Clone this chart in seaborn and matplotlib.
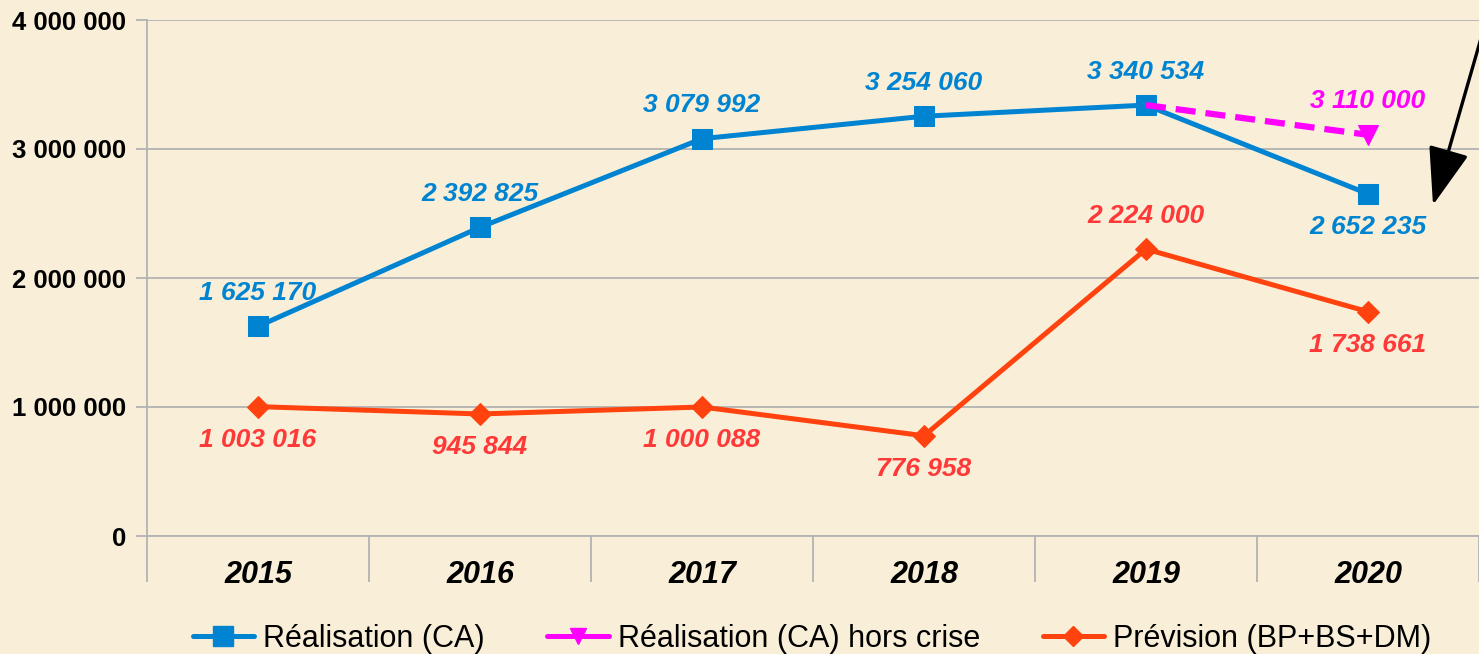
import numpy as np
import matplotlib
matplotlib.use("Agg")
import matplotlib.pyplot as plt
from matplotlib.lines import Line2D
from matplotlib.ticker import FuncFormatter
import seaborn as sns

annees = [2015, 2016, 2017, 2018, 2019, 2020]
realisation = [1625170, 2392825, 3079992, 3254060, 3340534, 2652235]
hors_crise = [np.nan, np.nan, np.nan, np.nan, 3340534, 3110000]
prevision = [1003016, 945844, 1000088, 776958, 2224000, 1738661]

# etiquette au-dessus (+1) ou en dessous (-1) du point
pos_real = [1, 1, 1, 1, 1, -1]
pos_prev = [-1, -1, -1, -1, 1, -1]

BLEU = "#0084d1"
ROUGE = "#ff420e"
ROUGE_TXT = "#ff3838"
MAGENTA = "#ff00ff"
FOND = "#f9efd8"
GRIS = "#b3b3b3"

sns.set_style("white")
plt.rcParams["font.family"] = ["Liberation Sans", "DejaVu Sans"]
plt.rcParams["text.color"] = "black"
plt.rcParams["xtick.color"] = "black"
plt.rcParams["ytick.color"] = "black"

fig = plt.figure(figsize=(14.79, 6.54), dpi=100, facecolor=FOND)
ax = fig.add_axes([147 / 1479, 1 - 536 / 654, 1 - 147 / 1479, (536 - 20) / 654])
ax.set_facecolor("none")

sns.lineplot(x=annees, y=realisation, color=BLEU, lw=3.6, marker="s", ms=14,
             mec=BLEU, ax=ax, zorder=3)
sns.lineplot(x=annees, y=hors_crise, color=MAGENTA, lw=4.5, marker="v", ms=14,
             mec=MAGENTA, linestyle=(0, (3.2, 1.6)), markevery=[1], ax=ax, zorder=4)
sns.lineplot(x=annees, y=prevision, color=ROUGE, lw=3.6, marker="D", ms=11,
             mec=ROUGE, ax=ax, zorder=3)

ax.set_xlim(2014.5, 2020.5)
ax.set_ylim(0, 4000000)

ax.set_xticks(annees)
ax.set_xticklabels([str(a) for a in annees], fontsize=22, fontweight="bold",
                   fontstyle="italic")
ax.set_xticks(np.arange(2014.5, 2021, 1), minor=True)
ax.tick_params(axis="x", which="major", bottom=True, length=0, pad=17)
ax.tick_params(axis="x", which="minor", bottom=True, length=33, color=GRIS, width=1.3)

ax.set_yticks([0, 1000000, 2000000, 3000000, 4000000])
ax.yaxis.set_major_formatter(FuncFormatter(lambda v, p: f"{int(v):,}".replace(",", " ")))
ax.tick_params(axis="y", left=True, length=8, color=GRIS, labelcolor="black",
               width=1.3, pad=7, labelsize=18.5)
for t in ax.get_yticklabels():
    t.set_fontweight("bold")

ax.yaxis.grid(True, color=GRIS, lw=1.3)
ax.xaxis.grid(False)
for s in ["top", "right"]:
    ax.spines[s].set_visible(False)
for s in ["left", "bottom"]:
    ax.spines[s].set_color(GRIS)
    ax.spines[s].set_linewidth(1.3)

def etiquette(x, y, sens, couleur):
    ax.annotate(f"{int(y):,}".replace(",", " "), (x, y), xytext=(0, 24 * sens),
                textcoords="offset points", ha="center", va="center", color=couleur,
                fontsize=19, fontweight="bold", fontstyle="italic", zorder=5)

for x, y, s in zip(annees, realisation, pos_real):
    etiquette(x, y, s, BLEU)
for x, y, s in zip(annees, prevision, pos_prev):
    etiquette(x, y, s, ROUGE_TXT)
etiquette(annees[-1], hors_crise[-1], 1, MAGENTA)

# fleche noire
ax.annotate("", xy=(1433, 654 - 205), xycoords="figure pixels",
            xytext=(1492, 654), textcoords="figure pixels",
            arrowprops=dict(arrowstyle="-|>,head_length=0.9,head_width=0.32",
                            mutation_scale=40, color="black", lw=2.4,
                            shrinkA=0, shrinkB=0),
            annotation_clip=False)

poignees = [
    Line2D([], [], color=BLEU, lw=3.6, marker="s", ms=14),
    Line2D([], [], color=MAGENTA, lw=3.6, marker="v", ms=12),
    Line2D([], [], color=ROUGE, lw=3.6, marker="D", ms=10),
]
noms = ["Réalisation (CA)", "Réalisation (CA) hors crise", "Prévision (BP+BS+DM)"]
fig.legend(poignees, noms, loc="center", bbox_to_anchor=(812 / 1479, 1 - 639 / 654),
           ncol=3, frameon=False, fontsize=22, handlelength=2.0, handletextpad=0.3,
           columnspacing=2.05, borderaxespad=0)

fig.savefig("out.png", dpi=100, facecolor=FOND)
